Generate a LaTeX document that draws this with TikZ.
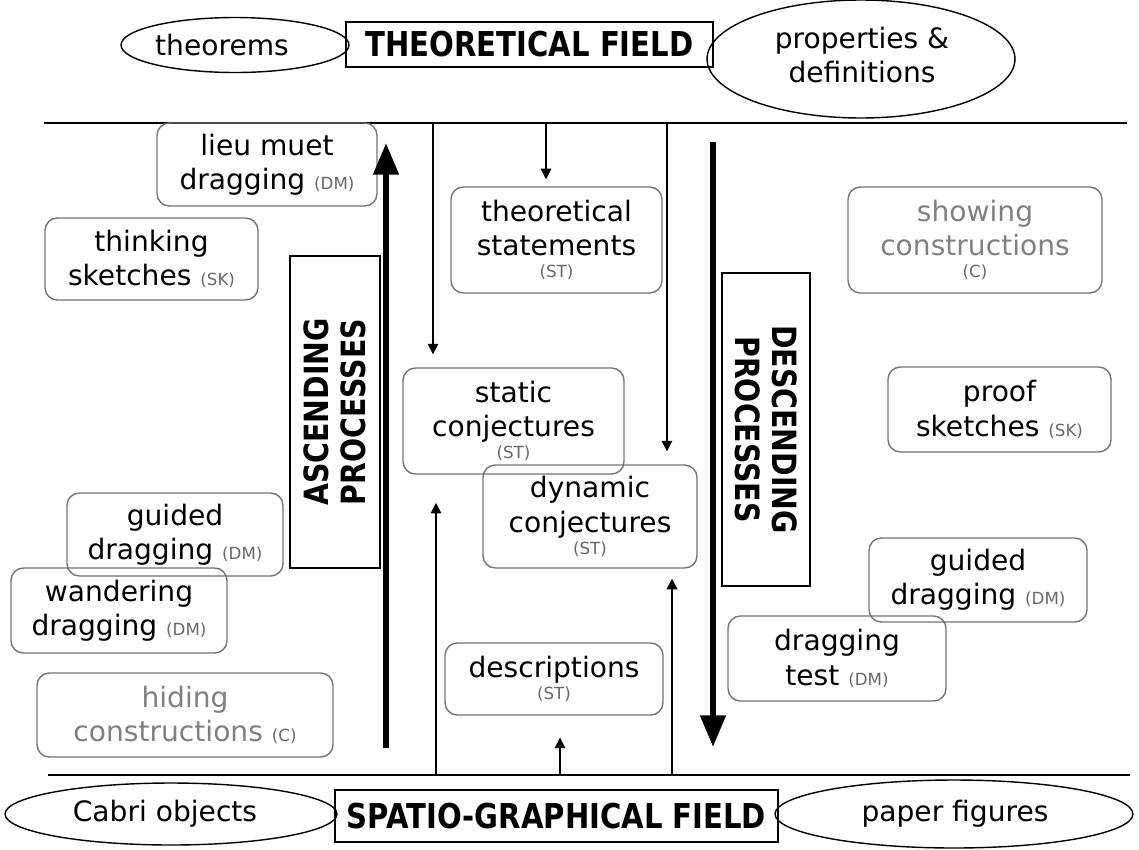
\documentclass[tikz,border=0pt]{standalone}
\usepackage{fontspec}
\setmainfont{DejaVu Sans}
\newfontfamily\fieldfont[FakeStretch=0.85]{DejaVu Sans}
\usetikzlibrary{shapes.geometric,arrows.meta}
\newcommand\smalltag[1]{{\fontsize{9.5pt}{10pt}\selectfont\color{black!60}#1}}
\tikzset{
  txt/.style={font=\fontsize{16pt}{19.5pt}\selectfont, align=center},
  rbox/.style={txt, draw=black!55, line width=0.8pt, rounded corners=7pt, inner sep=0pt},
  fadedbox/.style={rbox, text=black!50},
  fieldbox/.style={draw, line width=1pt, inner sep=0pt, font=\fieldfont\bfseries\fontsize{19.5pt}{19.5pt}\selectfont},
  oval/.style={txt, draw, ellipse, line width=0.8pt, inner sep=0pt},
  procbox/.style={draw, line width=1pt, inner sep=0pt},
  proctext/.style={align=center, font=\fieldfont\bfseries\fontsize{19pt}{21pt}\selectfont},
  tarrow/.style={line width=0.8pt, -{Triangle[length=6pt,width=6pt]}},
  bigarrow/.style={line width=3.4pt, -{Triangle[length=18pt,width=14pt]}},
  fieldline/.style={line width=1.2pt}
}
\begin{document}
\begin{tikzpicture}[x=0.02cm,y=-0.02cm]
\useasboundingbox (0,0) rectangle (1139,849);
% field lines
\coordinate (tl) at (44,123);
\coordinate (tr) at (1127,123);
\coordinate (bl) at (48,775);
\coordinate (br) at (1130,775);
\draw[fieldline] (tl) -- (tr);
\draw[fieldline] (bl) -- (br);

% top
\node[oval, minimum width=4.56cm, minimum height=1.1cm] (theorems) at (235,45) {};
\node[txt] (theoremst) at (222,45) {theorems};
\node[oval, minimum width=6.16cm, minimum height=2.36cm] (props) at (861,59) {};
\node[txt] (propst) at (862,55) {properties \&\\definitions};
\node[fieldbox, minimum width=7.34cm, minimum height=0.9cm] (theofield) at (529.5,44.5) {THEORETICAL FIELD};

% bottom
\node[oval, minimum width=6.64cm, minimum height=1.24cm] (cabri) at (171,814) {};
\node[txt] (cabrit) at (165,814) {Cabri objects};
\node[oval, minimum width=7.16cm, minimum height=1.36cm] (paper) at (954,814) {};
\node[txt] (papert) at (955,814) {paper figures};
\node[fieldbox, minimum width=8.86cm, minimum height=1.04cm] (spatio) at (556.5,816) {SPATIO-GRAPHICAL FIELD};

% boxes
\node[rbox, minimum width=4.4cm, minimum height=1.66cm] (lieu) at (267,164.5) {lieu muet\\dragging \smalltag{(DM)}};
\node[rbox, minimum width=4.26cm, minimum height=1.64cm] (thinking) at (151.5,259) {thinking\\sketches \smalltag{(SK)}};
\node[rbox, minimum width=4.22cm, minimum height=2.12cm] (theost) at (556.5,240) {theoretical\\statements\\[-7pt]\smalltag{(ST)}};
\node[rbox, minimum width=4.42cm, minimum height=2.12cm] (static) at (513.5,421) {static\\conjectures\\[-7pt]\smalltag{(ST)}};
\node[rbox, minimum width=4.28cm, minimum height=2.06cm] (dynamic) at (590,516.5) {dynamic\\conjectures\\[-7pt]\smalltag{(ST)}};
\node[rbox, minimum width=4.36cm, minimum height=1.44cm] (descr) at (554,679) {descriptions\\[-7pt]\smalltag{(ST)}};
\node[fadedbox, minimum width=5.08cm, minimum height=2.12cm] (showing) at (975,240) {showing\\constructions\\[-7pt]\smalltag{(C)}};
\node[rbox, minimum width=4.46cm, minimum height=1.7cm] (proof) at (999.5,409.5) {proof\\sketches \smalltag{(SK)}};
\node[rbox, minimum width=4.36cm, minimum height=1.68cm] (guidedR) at (978,580) {guided\\dragging \smalltag{(DM)}};
\node[rbox, minimum width=4.36cm, minimum height=1.7cm] (dtest) at (837,658.5) {dragging\\test \smalltag{(DM)}};
\node[rbox, minimum width=4.32cm, minimum height=1.66cm] (guidedL) at (175,534.5) {guided\\dragging \smalltag{(DM)}};
\node[rbox, minimum width=4.32cm, minimum height=1.7cm] (wander) at (119,610.5) {wandering\\dragging \smalltag{(DM)}};
\node[fadedbox, minimum width=5.92cm, minimum height=1.68cm] (hiding) at (185,715) {hiding\\constructions \smalltag{(C)}};

% process boxes
\node[procbox, minimum width=1.8cm, minimum height=6.24cm] (asc) at (335,412) {};
\node[proctext, rotate=90] (asct) at (asc.center) {ASCENDING\\PROCESSES};
\node[procbox, minimum width=1.76cm, minimum height=6.26cm] (desc) at (766,429.5) {};
\node[proctext, rotate=-90] (desct) at (desc.center) {DESCENDING\\PROCESSES};

% big arrows
\coordinate (upS) at (386,748);
\coordinate (upE) at (386,143);
\coordinate (dnS) at (713,142);
\coordinate (dnE) at (713,747);
\draw[bigarrow] (upS) -- (upE);
\draw[bigarrow] (dnS) -- (dnE);

% thin arrows from the theoretical field
\coordinate (ta1) at (433,123);
\coordinate (ta2) at (546,123);
\coordinate (ta3) at (667,123);
\draw[tarrow, shorten >=7.4pt] (ta1) -- (ta1 |- static.north);
\draw[tarrow, shorten >=4pt] (ta2) -- (ta2 |- theost.north);
\draw[tarrow, shorten >=7.4pt] (ta3) -- (ta3 |- dynamic.north);
% thin arrows from the spatio-graphical field
\coordinate (ba1) at (436,775);
\coordinate (ba2) at (560,775);
\coordinate (ba3) at (672,775);
\draw[tarrow, shorten >=16pt] (ba1) -- (ba1 |- static.south);
\draw[tarrow, shorten >=12.5pt] (ba2) -- (ba2 |- descr.south);
\draw[tarrow, line width=1.2pt, shorten >=5.7pt] (ba3) -- (ba3 |- dynamic.south);
\end{tikzpicture}
\end{document}
